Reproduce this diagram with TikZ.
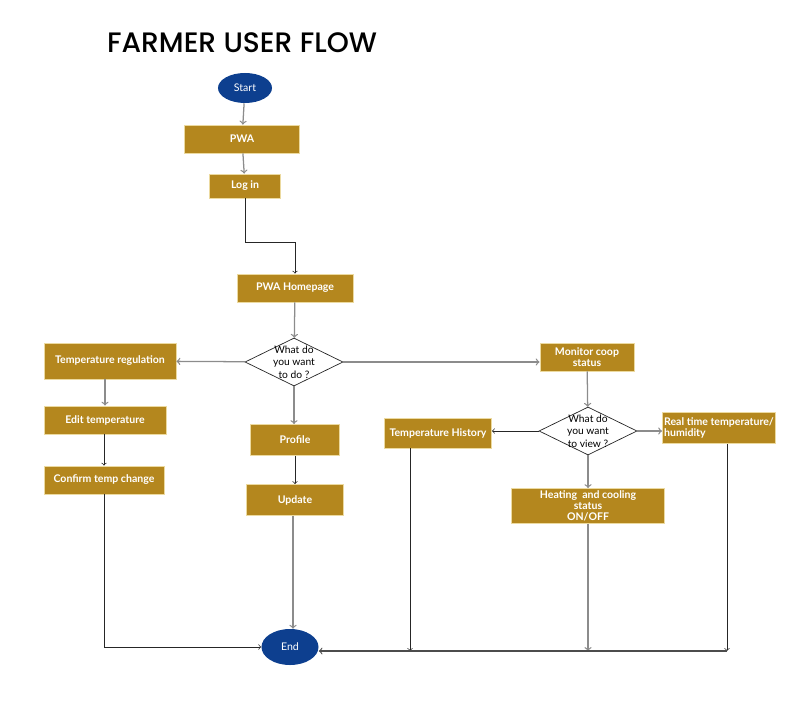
\documentclass[tikz,border=0pt]{standalone}
\usepackage{fontspec}
\setmainfont{Lato}
\newfontfamily\titlefont{Poppins Medium}
\usetikzlibrary{shapes.geometric}
\definecolor{gold}{RGB}{180,135,30}
\definecolor{goldedge}{RGB}{236,218,160}
\definecolor{navy}{RGB}{13,63,143}
\def\boxfont{\fontsize{7.5}{9}\selectfont\bfseries}

\begin{document}
\begin{tikzpicture}[x=0.025cm,y=-0.025cm,>=to,draw=black!50]
    \tikzstyle{task}=[rectangle,fill=gold,draw=goldedge,line width=0.6pt,text=white,font=\boxfont,align=center,inner sep=1pt]
    \tikzstyle{terminal}=[ellipse,fill=navy,text=white,font=\fontsize{7.5}{9}\selectfont,inner sep=0pt]
    \tikzstyle{decision}=[diamond,draw=black!85,fill=white,line width=0.5pt,inner sep=0pt,minimum width=2.45cm,minimum height=1.2cm]
    \tikzstyle{line}=[->,draw=black!45,line width=0.9pt]
    \tikzstyle{thin line}=[->,draw=black!85,line width=0.5pt]
    \tikzstyle{ask}=[font=\fontsize{7.3}{8.8}\selectfont,align=center]

    \useasboundingbox (0,0) rectangle (806,714);

    % Title
    \node[font=\titlefont\fontsize{20}{24}\selectfont] (title) at (242,43) {FARMER USER FLOW};

    % Draw the main column
    \node[terminal, minimum width=1.35cm, minimum height=0.75cm] (start) at (245,88) {Start};
    \node[task, minimum width=2.875cm, minimum height=0.7cm] (pwa) at (242,139) {PWA};
    \node[task, minimum width=1.775cm, minimum height=0.6cm] (login) at (245,186) {Log in};
    \node[task, minimum width=2.9cm, minimum height=0.7cm] (home) at (295,288) {PWA Homepage};
    \node[decision, label={[ask]center:What do\\you want\\to do ?}] (todo) at (294,362) {};

    % Draw the left branch
    \node[task, minimum width=3.3cm, minimum height=0.9cm] (tempreg) at (110,361) {Temperature regulation};
    \node[task, minimum width=3.05cm, minimum height=0.7cm] (edittemp) at (105,420) {Edit temperature};
    \node[task, minimum width=3.0cm, minimum height=0.7cm] (confirm) at (104,480) {Confirm temp change};

    % Draw the middle branch
    \node[task, minimum width=2.225cm, minimum height=0.775cm] (profile) at (295,440) {Profile};
    \node[task, minimum width=2.425cm, minimum height=0.775cm] (update) at (295,500) {Update};
    \node[terminal, minimum width=1.425cm, minimum height=0.9cm] (end) at (290,647) {End};

    % Draw the right branch
    \node[task, minimum width=2.35cm, minimum height=0.7cm] (monitor) at (587,357) {Monitor coop\\[-1pt]status};
    \node[decision, label={[ask]center:What do\\you want\\to view ?}] (toview) at (588,431) {};
    \node[task, minimum width=2.675cm, minimum height=0.75cm] (history) at (438,433) {Temperature History};
    \node[task, minimum width=2.825cm, minimum height=0.775cm, align=left] (realtime) at (719,428) {Real time temperature/\\[-1pt]humidity\hspace*{2.1em}};
    \node[task, minimum width=3.825cm, minimum height=0.875cm] (heating) at (588,506) {Heating~ and cooling\\[-1pt]status\\[-1pt]ON/OFF};

    % Points where the right branch drops down
    \coordinate (histdrop) at ([xshift=0.65cm]history.south west);
    \coordinate (realdrop) at ([xshift=-1.225cm]realtime.south east);
    \coordinate (base) at (727,651);

    % Connect the main column
    \draw[line] (start) -- (pwa);
    \draw[line] (pwa) -- (login);
    \draw[thin line] (login.south) -- ++(0,44) -| (home.north);
    \draw[line] (home) -- (todo);
    \draw[line] (todo) -- (tempreg);
    \draw[line] (todo.east) -- (todo.east -| monitor.west);
    \draw[line] (todo.south) -- (todo.south |- profile.north);

    % Connect the left and middle branches
    \draw[line] (edittemp.north |- tempreg.south) -- (edittemp.north);
    \draw[thin line] (confirm.north |- edittemp.south) -- (confirm.north);
    \draw[thin line] (confirm.south) |- (end.west);
    \draw[thin line] (profile) -- (update);
    \draw[line] ([xshift=-0.05cm]update.south) -- ([xshift=-0.05cm]update.south |- end.north);

    % Connect the right branch
    \draw[line] (monitor) -- (toview);
    \draw[thin line] (toview.west) -- (toview.west -| history.east);
    \draw[line] (toview.east) -- (toview.east -| realtime.west);
    \draw[line] (toview) -- (heating);
    \foreach \src/\kind in {histdrop/thin line, heating.south/line, realdrop/thin line}
        \draw[\kind] (\src) -- (\src |- base);
    \draw[->,draw=black!70,line width=0.8pt] (base) -- (base -| end.east);
\end{tikzpicture}
\end{document}
